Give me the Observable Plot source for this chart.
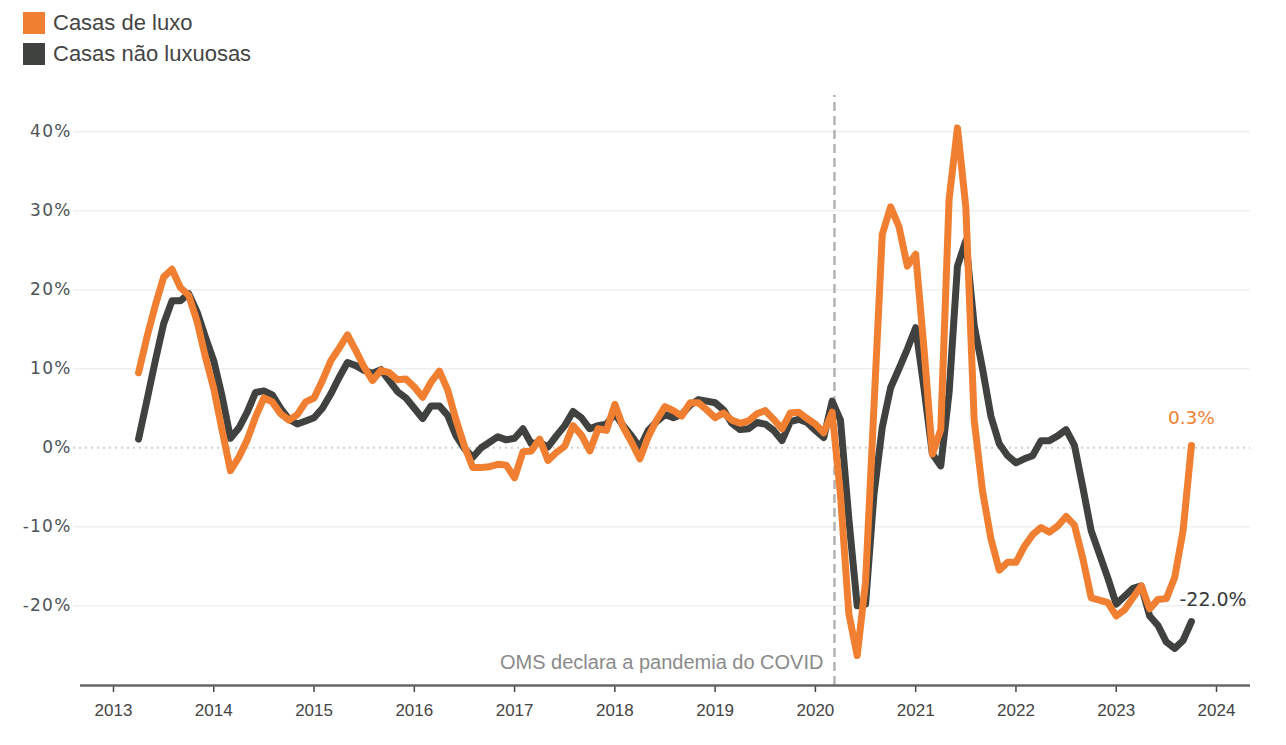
<!DOCTYPE html>
<html>
<head>
<meta charset="utf-8">
<script src="https://cdn.jsdelivr.net/npm/d3@7"></script>
<script src="https://cdn.jsdelivr.net/npm/@observablehq/plot@0.6"></script>
<style>
  body { margin: 0; background: #fff; font-family: "Liberation Sans", Arial, sans-serif; }
  #wrap { position: relative; width: 1286px; height: 745px; }
  #chart { position: absolute; left: 0; top: 0; }
  #chart g[aria-label="y-axis tick label"] text {
    font-family: "DejaVu Sans", sans-serif !important;
    font-size: 17px !important;
    letter-spacing: 1.2px;
  }
  .legend { position: absolute; left: 23px; top: 7px; }
  .item { display: flex; align-items: center; height: 31.5px; font-size: 22px; color: #444; }
  .sw { width: 22px; height: 22px; margin-right: 8px; }
</style>
</head>
<body>
<div id="wrap">
  <div id="chart"></div>
  <div class="legend" id="legend"></div>
</div>
<script>
// Year-over-year change in sales (%), monthly, April 2013 – October 2023
const seriesNames = ["Casas de luxo", "Casas não luxuosas"];
const seriesColors = ["#f07f31", "#40423f"];

const luxury = [
  // 2013 (Apr–Dec)
  9.5, 14.0, 18.0, 21.6, 22.6, 20.3, 19.3, 16.0, 11.5,
  // 2014
  7.5, 2.2, -2.9, -1.2, 1.0, 3.9, 6.3, 5.8, 4.3, 3.5, 4.2, 5.8,
  // 2015
  6.3, 8.5, 11.0, 12.6, 14.3, 12.3, 10.2, 8.5, 9.8, 9.5, 8.6, 8.7,
  // 2016
  7.7, 6.4, 8.3, 9.7, 7.3, 3.5, 0.2, -2.5, -2.5, -2.4, -2.1, -2.2,
  // 2017
  -3.8, -0.5, -0.4, 1.1, -1.6, -0.6, 0.2, 2.8, 1.6, -0.4, 2.4, 2.2,
  // 2018
  5.5, 2.6, 0.7, -1.4, 1.4, 3.5, 5.2, 4.7, 4.0, 5.7, 5.7, 4.8,
  // 2019
  3.8, 4.4, 3.5, 3.1, 3.4, 4.3, 4.7, 3.6, 2.4, 4.4, 4.5, 3.7,
  // 2020
  3.0, 1.9, 4.5, -6.0, -21.0, -26.3, -17.0, 5.0, 27.0, 30.5, 28.0, 23.0,
  // 2021
  24.5, 12.5, -0.8, 2.3, 31.5, 40.5, 30.5, 3.5, -5.5, -11.5, -15.5, -14.5,
  // 2022
  -14.5, -12.5, -11.0, -10.1, -10.7, -9.9, -8.7, -9.8, -14.0, -19.0, -19.3, -19.6,
  // 2023 (Jan–Oct)
  -21.3, -20.5, -19.0, -17.5, -20.4, -19.2, -19.1, -16.4, -10.5, 0.3
];

const nonLuxury = [
  // 2013 (Apr–Dec)
  1.1, 6.0, 11.0, 15.7, 18.6, 18.6, 19.5, 17.2, 14.0,
  // 2014
  11.0, 6.5, 1.2, 2.5, 4.5, 7.0, 7.2, 6.7, 5.0, 3.6, 3.0, 3.4,
  // 2015
  3.8, 5.0, 6.8, 8.9, 10.8, 10.4, 9.8, 9.4, 9.9, 8.5, 7.1, 6.3,
  // 2016
  5.0, 3.7, 5.3, 5.3, 4.1, 1.5, -0.1, -1.2, 0.0, 0.7, 1.4, 1.0,
  // 2017
  1.2, 2.4, 0.5, 0.7, 0.1, 1.5, 2.8, 4.6, 3.8, 2.4, 2.8, 3.0,
  // 2018
  4.3, 2.8, 1.5, 0.0, 2.2, 3.3, 4.2, 3.8, 4.2, 5.4, 6.1, 5.9,
  // 2019
  5.7, 4.8, 3.1, 2.3, 2.4, 3.2, 3.0, 2.2, 0.9, 3.3, 3.6, 3.2,
  // 2020
  2.2, 1.3, 5.9, 3.5, -9.0, -20.0, -19.8, -6.0, 2.6, 7.6, 10.0, 12.5,
  // 2021
  15.2, 7.5, -0.8, -2.3, 7.0, 23.0, 26.2, 15.5, 10.0, 4.0, 0.5, -1.0,
  // 2022
  -1.9, -1.4, -1.0, 0.9, 0.9, 1.5, 2.3, 0.3, -5.0, -10.5, -13.5, -16.5,
  // 2023 (Jan–Oct)
  -19.8, -18.8, -17.8, -17.5, -21.3, -22.5, -24.6, -25.4, -24.4, -22.0
];

const yearTicks = [2013, 2014, 2015, 2016, 2017, 2018, 2019, 2020, 2021, 2022, 2023, 2024];
const pctTicks = [-20, -10, 0, 10, 20, 30, 40];
const covidDate = 2020.19;           // 11 March 2020
const covidNote = "OMS declara a pandemia do COVID";

// Monthly time axis as fractional years
const months = d3.utcMonth.range(new Date(Date.UTC(2013, 3, 1)), new Date(Date.UTC(2023, 10, 1)));
const toYear = d => d.getUTCFullYear() + d.getUTCMonth() / 12;

const luxRows = luxury.map((v, i) => ({x: toYear(months[i]), y: v}));
const nonRows = nonLuxury.map((v, i) => ({x: toYear(months[i]), y: v}));

const xDomain = [2012.671, 2024.339];
const yDomain = [-30.1, 44.6];
const numFont = "DejaVu Sans, sans-serif";

const chart = Plot.plot({
  width: 1286,
  height: 745,
  marginTop: 95,
  marginBottom: 60,
  marginLeft: 80,
  marginRight: 36,
  x: {domain: xDomain},
  y: {domain: yDomain},
  style: {background: "#fff", fontFamily: "Liberation Sans, Arial, sans-serif"},
  marks: [
    Plot.ruleY(pctTicks.filter(d => d !== 0), {stroke: "#efefef", strokeWidth: 1.5, insetLeft: -7}),
    Plot.ruleY([0], {stroke: "#cfcfcf", strokeWidth: 2, strokeDasharray: "2,4", insetLeft: -7}),
    Plot.ruleX([covidDate], {y1: yDomain[0], y2: yDomain[1], stroke: "#b3b3b3", strokeWidth: 2.5, strokeDasharray: "9,5"}),
    Plot.text([covidNote], {x: covidDate, y: -27.2, text: d => d, textAnchor: "end", dx: -11, fill: "#8a8a8a", fontSize: 20}),
    Plot.line(nonRows, {x: "x", y: "y", stroke: seriesColors[1], strokeWidth: 7, strokeLinejoin: "round", strokeLinecap: "round"}),
    Plot.line(luxRows, {x: "x", y: "y", stroke: seriesColors[0], strokeWidth: 7, strokeLinejoin: "round", strokeLinecap: "round"}),
    Plot.axisY({ticks: pctTicks, tickSize: 0, tickPadding: 9, tickFormat: d => d + "%", fontSize: 17, fill: "#4d5359", fontFamily: numFont, label: null}),
    Plot.axisX({ticks: yearTicks, tickFormat: "d", tickSize: 7, tickPadding: 11, fontSize: 17, fill: "#444", stroke: "#444", strokeWidth: 1.5, label: null}),
    Plot.ruleY([yDomain[0]], {stroke: "#666", strokeWidth: 2.5}),
    Plot.text([luxRows[luxRows.length - 1]], {x: "x", y: "y", text: d => d.y.toFixed(1) + "%", dy: -27, fill: seriesColors[0], fontSize: 18.5, fontFamily: numFont}),
    Plot.text([nonRows[nonRows.length - 1]], {x: "x", y: "y", text: d => d.y.toFixed(1) + "%", dx: -12, dy: -22, textAnchor: "start", fill: "#3a3a3a", fontSize: 19, fontFamily: numFont})
  ]
});
document.getElementById("chart").appendChild(chart);

// Legend
const legend = document.getElementById("legend");
seriesNames.forEach((name, i) => {
  const item = document.createElement("div");
  item.className = "item";
  const sw = document.createElement("span");
  sw.className = "sw";
  sw.style.background = seriesColors[i];
  item.appendChild(sw);
  item.appendChild(document.createTextNode(name));
  legend.appendChild(item);
});
</script>
</body>
</html>
